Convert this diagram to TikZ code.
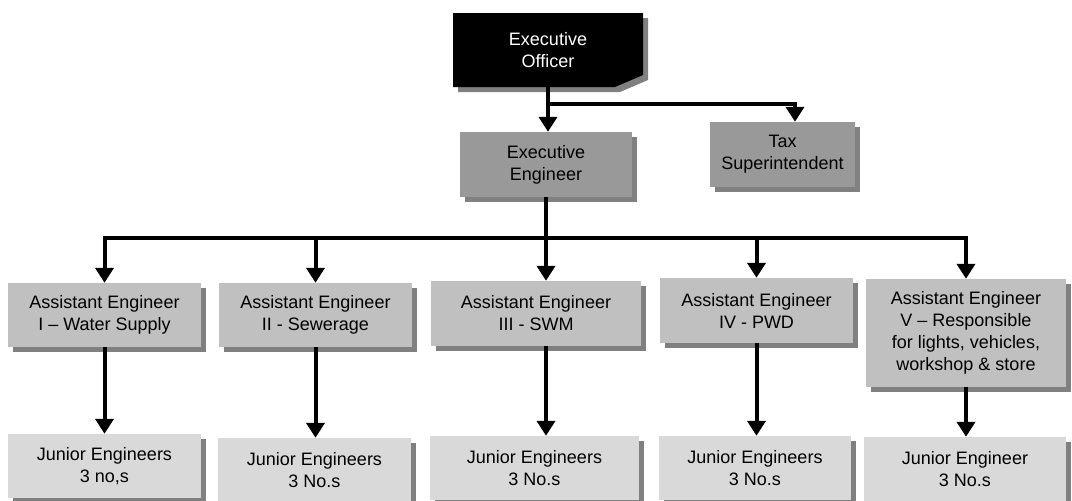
\documentclass[tikz,border=0pt]{standalone}
\usepackage{fontspec}
\setmainfont{Liberation Sans}
\definecolor{chiefblack}{RGB}{0,0,0}
\definecolor{headgray}{RGB}{153,153,153}
\definecolor{asstgray}{RGB}{192,192,192}
\definecolor{juniorgray}{RGB}{217,217,217}
\definecolor{shadegray}{RGB}{128,128,128}
\usetikzlibrary{arrows.meta, positioning, calc, shadows}

\begin{document}
\begin{tikzpicture}[x=1pt, y=-1pt,
  boxtext/.style={align=center, inner sep=0pt, font=\fontsize{18}{22}\selectfont},
  box/.style={boxtext, drop shadow={shadow xshift=5pt, shadow yshift=-5pt, fill=shadegray, opacity=1}},
  headbox/.style={box, fill=headgray, minimum height=65pt},
  asstbox/.style={box, fill=asstgray, minimum width=193pt, minimum height=64pt},
  juniorbox/.style={box, fill=juniorgray, minimum width=193pt, minimum height=64pt},
  link/.style={line width=4pt},
  arr/.style={link, -{Triangle[width=18pt, length=15pt]}}]

  \clip (0,0) rectangle (1072,501);

  % Top officer: black box with a cut corner
  \fill[shadegray] (458,18) -- (648,18) -- (648,80) -- (620,92) -- (458,92) -- cycle;
  \fill[chiefblack] (453,13) -- (643,13) -- (643,75) -- (615,87) -- (453,87) -- cycle;
  \node[boxtext, text=white, minimum width=190pt, minimum height=74pt] (eo) at (548,50) {Executive\\Officer};

  % Second row
  \node[headbox, minimum width=172pt] (ee) at (546,164.5) {Executive\\Engineer};
  \node[headbox, minimum width=145pt] (tax) at (782.5,154.5) {Tax\\Superintendent};

  % Assistant engineers
  \node[asstbox] (ae1) at (104.5,315) {Assistant Engineer\\I – Water Supply};
  \node[asstbox] (ae2) at (315.5,315) {Assistant Engineer\\II - Sewerage};
  \node[asstbox, minimum width=210pt, minimum height=65pt] (ae3) at (536,313.5) {Assistant Engineer\\III - SWM};
  \node[asstbox, minimum height=65pt] (ae4) at (756.5,310.5) {Assistant Engineer\\IV - PWD};
  \node[asstbox, minimum width=200pt, minimum height=108pt] (ae5) at (966,333) {Assistant Engineer\\V – Responsible\\for lights, vehicles,\\workshop \& store};

  % Junior engineers
  \node[juniorbox] (je1) at (104.5,466) {Junior Engineers\\3 no,s};
  \node[juniorbox] (je2) at (314.5,470) {Junior Engineers\\3 No.s};
  \node[juniorbox, minimum width=209pt] (je3) at (534.5,468) {Junior Engineers\\3 No.s};
  \node[juniorbox, minimum width=192pt] (je4) at (755,468) {Junior Engineers\\3 No.s};
  \node[juniorbox, minimum width=202pt] (je5) at (965,469) {Junior Engineer\\3 No.s};

  % Officer to engineer and tax
  \coordinate (eobus) at ($(eo.south)+(0,17)$);
  \draw[arr] (eo.south) -- (eo.south |- ee.north);
  \draw[arr] (eobus) -| ($(tax.north)+(12.5,0)$);

  % Engineer to the assistants
  \draw[link] (ee.south) -- ++(0,41) coordinate (bus);
  \foreach \n in {ae1,ae2,ae4,ae5}
    \draw[arr] (bus) -| (\n.north);
  \draw[arr] (bus) -- (bus |- ae3.north);

  % Assistants to the juniors
  \foreach \a/\j in {ae1/je1, ae2/je2, ae4/je4, ae5/je5}
    \draw[arr] (\a.south) -- (\a.south |- \j.north);
  \draw[arr] (bus |- ae3.south) -- (bus |- je3.north);
\end{tikzpicture}
\end{document}
